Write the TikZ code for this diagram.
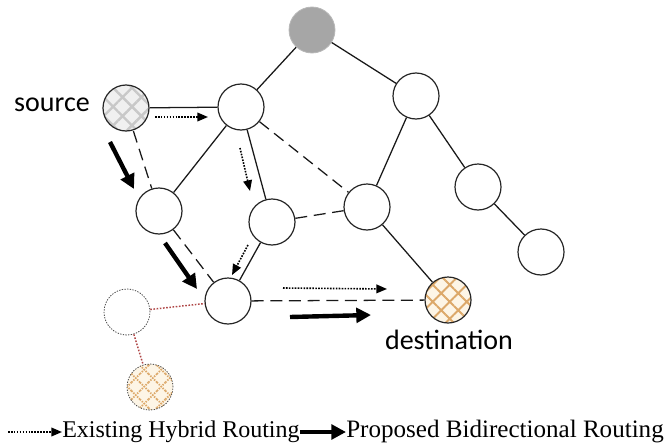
\documentclass[tikz,border=0pt]{standalone}
\usepackage{fontspec}
\setmainfont{Liberation Serif}
\newfontfamily\labelfont{Carlito}
\usetikzlibrary{arrows.meta,patterns.meta}

\definecolor{rootgrey}{RGB}{166,166,166}
\definecolor{srcbg}{RGB}{240,240,240}
\definecolor{srcline}{RGB}{200,200,200}
\definecolor{dstbg}{RGB}{253,245,230}
\definecolor{dstline}{RGB}{220,168,105}
\definecolor{linkred}{RGB}{175,70,70}

\begin{document}
\begin{tikzpicture}[x=0.75pt,y=-0.75pt,
  vertex/.style={circle,draw=black!85,line width=0.9pt,fill=white,
    minimum size=34.5pt,inner sep=0pt},
  rootnode/.style={circle,fill=rootgrey,draw=rootgrey!80,line width=0.6pt,
    minimum size=34.5pt,inner sep=0pt},
  srcnode/.style={vertex,preaction={fill=srcbg},
    pattern={Hatch[angle=45,distance=10pt,line width=1.8pt]},pattern color=srcline},
  dstnode/.style={vertex,preaction={fill=dstbg},
    pattern={Hatch[angle=45,distance=9pt,line width=1.4pt]},pattern color=dstline},
  ghost/.style={vertex,draw=black!70,line width=0.6pt,dash pattern=on 1pt off 1pt},
  ghostdst/.style={dstnode,draw=black!70,line width=0.6pt,dash pattern=on 1pt off 1pt},
  link/.style={line width=0.95pt,black!90},
  dlink/.style={link,dash pattern=on 9pt off 5pt},
  redlink/.style={line width=1.1pt,linkred,dash pattern=on 1.2pt off 1.2pt},
  hybrid/.style={line width=1.2pt,dash pattern=on 1.2pt off 1pt,
    -{Triangle[length=8pt,width=6.5pt]}},
  proposed/.style={line width=3.3pt,-{Triangle[length=11pt,width=11pt]}},
  lbl/.style={font=\labelfont\fontsize{21}{24}\selectfont,inner sep=0pt},
  legend/.style={inner sep=0pt,anchor=west}
]
\useasboundingbox (0,0) rectangle (671,446);

% nodes
\node[rootnode] (root) at (312,30) {};
\node[vertex] (a) at (241,107) {};
\node[vertex] (b) at (416,96) {};
\node[srcnode] (src) at (126,108) {};
\node[vertex] (c) at (159,211) {};
\node[vertex] (d) at (272,222) {};
\node[vertex] (e) at (367,207) {};
\node[vertex] (f) at (478,187) {};
\node[vertex] (g) at (541,252) {};
\node[vertex] (h) at (228,301) {};
\node[dstnode] (dst) at (448,300) {};
\node[ghost] (p) at (127,312) {};
\node[ghostdst] (q) at (150,387) {};

% links
\draw[link] (root) -- (a);
\draw[link] (root) -- (b);
\draw[link] (src) -- (a);
\draw[link] (a) -- (c);
\draw[link] (a) -- (d);
\draw[link] (b) -- (e);
\draw[link] (b) -- (f);
\draw[link] (f) -- (g);
\draw[link] (d) -- (h);
\draw[link] (e) -- (dst);
\draw[dlink] (a) -- (e);
\draw[dlink] (src) -- (c);
\draw[dlink] (c) -- (h);
\draw[dlink] (d) -- (e);
\draw[dlink] (h) -- (dst);
\draw[redlink] (p) -- (h);
\draw[redlink] (p) -- (q);

% labels
\node[lbl] (srclbl) at (52,105) {source};
\node[lbl] (dstlbl) at (449,340) {destination};

% routing arrows
\coordinate (h1s) at (155,117); \coordinate (h1e) at (208,117);
\coordinate (h2s) at (240,148); \coordinate (h2e) at (250,191);
\coordinate (h3s) at (248,245); \coordinate (h3e) at (232,275);
\coordinate (h4s) at (283,288); \coordinate (h4e) at (387,289);
\coordinate (p1s) at (110,142); \coordinate (p1e) at (134,189);
\coordinate (p2s) at (165,243); \coordinate (p2e) at (197,289);
\coordinate (p3s) at (290,317); \coordinate (p3e) at (371,315);
\draw[hybrid] (h1s) -- (h1e);
\draw[hybrid] (h2s) -- (h2e);
\draw[hybrid] (h3s) -- (h3e);
\draw[hybrid] (h4s) -- (h4e);
\draw[proposed] (p1s) -- (p1e);
\draw[proposed] (p2s) -- (p2e);
\draw[proposed] (p3s) -- (p3e);

% legend
\coordinate (l1s) at (8,432);
\node[legend,font=\fontsize{18}{22}\selectfont] (l1) at (62,432) {Existing Hybrid Routing};
\draw[hybrid] (l1s) -- (l1.west);
\coordinate (l2s) at (300,432);
\node[legend,font=\fontsize{18.8}{22}\selectfont] (l2) at (346,432) {Proposed Bidirectional Routing};
\draw[proposed] (l2s) -- (l2.west);
\end{tikzpicture}
\end{document}
